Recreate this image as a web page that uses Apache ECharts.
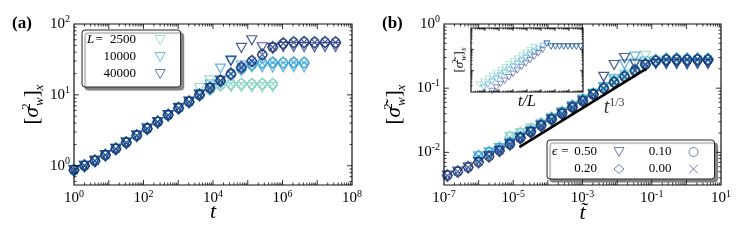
<!DOCTYPE html>
<html><head><meta charset="utf-8">
<script src="https://cdn.jsdelivr.net/npm/echarts@6/dist/echarts.min.js"></script>
<style>html,body{margin:0;padding:0;background:#fff}#c{width:747px;height:249px}</style>
</head><body><div id="c"></div>
<script>
// ---------- data: panel (a) ----------
const tA = [1,2,4,8,16,32,64,128,256,512,1024,2048,4096,8192,16384,32768,65536,131072,262144,524288,1048576,2097152,4194304,8388608,16777216,33554432];
const a2500    = [0.87,1.0,1.17,1.41,1.73,2.12,2.66,3.34,4.14,5.19,6.5,7.95,9.8,11.8,13.6,14.2,14.3,14.2,14.3,14.2];
const a2500tri = [0.87,1.0,1.17,1.41,1.73,2.12,2.66,3.34,4.14,5.19,6.6,8.2,12.5,16.0,13.5,12.8,12.8,12.7,12.8,12.8];
const a10000    = [0.87,1.0,1.17,1.41,1.73,2.12,2.66,3.34,4.14,5.19,6.5,7.95,10.0,12.5,15.6,19.3,23.0,26.5,28.3,28.6,28.5,28.6,28.5];
const a10000tri = [0.87,1.0,1.17,1.41,1.73,2.12,2.66,3.34,4.14,5.19,6.5,7.95,10.3,14.0,23.5,31.0,26.0,24.5,24.5,24.4,24.5,24.5,24.4];
const a40000    = [0.87,1.0,1.17,1.41,1.73,2.12,2.66,3.34,4.14,5.19,6.5,7.95,10.0,12.5,15.9,19.9,24.5,30.0,37.0,47.0,53.0,55.0,55.5,55.0,55.5,55.0];
const a40000tri = [0.87,1.0,1.17,1.41,1.73,2.12,2.66,3.34,4.14,5.19,6.5,7.95,10.0,12.5,15.9,30.0,46.0,59.0,47.0,46.0,47.5,47.5,47.5,47.0,47.5,47.5];
// ---------- data: panel (b) ----------
const tTilde = [1.25e-7,2.5e-7,5e-7,1e-6,2e-6,4e-6,8e-6,1.6e-5,3.2e-5,6.4e-5,1.28e-4,2.56e-4,5.12e-4,1.024e-3,2.048e-3,4.096e-3,8.192e-3,0.016384,0.032768,0.065536,0.131072,0.262144,0.524288,1.048576,2.097152,4.194304];
const b2500    = [0.0174,0.02,0.0234,0.0282,0.0346,0.0424,0.0532,0.0668,0.0828,0.1038,0.13,0.159,0.196,0.236,0.272,0.284,0.286,0.284,0.286,0.284];
const b2500tri = [0.0174,0.02,0.0234,0.0282,0.0346,0.0424,0.0532,0.0668,0.0828,0.1038,0.132,0.164,0.25,0.32,0.27,0.256,0.256,0.254,0.256,0.256];
const b10000    = [0.0087,0.01,0.0117,0.0141,0.0173,0.0212,0.0266,0.0334,0.0414,0.0519,0.065,0.0795,0.1,0.125,0.156,0.193,0.23,0.265,0.283,0.286,0.285,0.286,0.285];
const b10000tri = [0.0087,0.01,0.0117,0.0141,0.0173,0.0212,0.0266,0.0334,0.0414,0.0519,0.065,0.0795,0.103,0.14,0.235,0.31,0.26,0.245,0.245,0.244,0.245,0.245,0.244];
const b40000    = [0.00435,0.005,0.00585,0.00705,0.00865,0.0106,0.0133,0.0167,0.0207,0.026,0.0325,0.0398,0.05,0.0625,0.0795,0.0995,0.1225,0.15,0.185,0.235,0.265,0.275,0.2775,0.275,0.2775,0.275];
const b40000tri = [0.00435,0.005,0.00585,0.00705,0.00865,0.0106,0.0133,0.0167,0.0207,0.026,0.0325,0.0398,0.05,0.0625,0.0795,0.15,0.23,0.295,0.235,0.23,0.2375,0.2375,0.2375,0.235,0.2375,0.2375];
const offsetB = {2500: 6, 10000: 3, 40000: 0};
const powerX = [1.5e-5, 0.07];
const powerY = [0.0121, 0.202];
const annotPos = [0.0082, 0.0487];
// ---------- data: inset ----------
const insetX = [1,2,4,8,16,32,64,128,256,512,1024,2048,4096,8192,16384,32768,65536,131072,262144,524288,1048576,2097152,4194304,8388608,16777216,33554432,67108864];
const insetTeal = [0.00224,0.00305,0.00417,0.00569,0.00776,0.0106,0.0145,0.0197,0.0269,0.0367,0.0501,0.0684,0.0933,0.127];
const insetBlue = [0.00158,0.00219,0.00302,0.00417,0.00575,0.00794,0.011,0.0151,0.0209,0.0288,0.0398,0.055,0.0759,0.105,0.145,0.19,0.138,0.138,0.138,0.138,0.138,0.138,0.138,0.138];
const insetNavy = [0.00112,0.00162,0.00234,0.00339,0.0049,0.00708,0.0102,0.0148,0.0214,0.0309,0.0447,0.0646,0.0933,0.182,0.135,0.135,0.135,0.135,0.135,0.135,0.135,0.135];
const insetStart = {teal: 2, blue: 3, navy: 5};
// ---------- labels ----------
const legendL = ['2500','10000','40000'];
const legendEps = ['0.50','0.10','0.20','0.00'];

// ---------- styling ----------
const FF = '"Liberation Serif","DejaVu Serif",serif';
const C = {2500: '#86d3c1', 10000: '#37a3d6', 40000: '#1d3679'};
const CL = {2500: '#8ad6c4', 10000: '#3ea8da', 40000: '#4a5596'};
const CEPS = '#4c5c9c';
const TRI = 'path://M0,0L10,0L5,9Z';
const CROSS = 'path://M0,0L10,10M10,0L0,10';
const NONE = 'rgba(0,0,0,0)';

const tickRich = {
  b: {fontFamily: FF, fontSize: 15, lineHeight: 19, color: '#000'},
  s: {fontFamily: FF, fontSize: 10, lineHeight: 10, verticalAlign: 'top', color: '#000'}
};
function fmt(parity) {
  return function (v) {
    const e = Math.log10(v), r = Math.round(e);
    if (Math.abs(e - r) > 1e-6) return '';
    if (parity !== null && Math.abs(r % 2) !== parity) return '';
    return '{b|10}{s|' + r + '}';
  };
}
function logAxis(grid, min, max, parity, extra) {
  return Object.assign({
    type: 'log', gridIndex: grid, min: min, max: max, logBase: 10,
    axisLine: {show: false}, axisTick: {show: false}, splitLine: {show: false}, minorTick: {show: false},
    axisLabel: {formatter: fmt(parity), rich: tickRich, margin: 4},
    nameMoveOverlap: false
  }, extra);
}
function yName(size, sub) {
  return {
    rich: {
      br: {fontFamily: FF, fontSize: size, lineHeight: size * 1.25, color: '#000'},
      sg: {fontFamily: FF, fontStyle: 'italic', fontSize: size, lineHeight: size * 1.25, color: '#000'},
      sp: {fontFamily: FF, fontSize: sub, lineHeight: sub, verticalAlign: 'top', width: 1, align: 'left', color: '#000'},
      sb: {fontFamily: FF, fontStyle: 'italic', fontSize: sub, lineHeight: sub, verticalAlign: 'bottom', color: '#000'}
    }
  };
}
const YN_A = '{br|[}{sg|σ}{sp|2}{sb|w}{br|]}{sb|x}';
const YN_B = '{br|[}{sg|σ̃}{sp|2}{sb|w}{br|]}{sb|x}';

function scat(name, xs, ys, sym, size, color, xi, bw, z) {
  return {
    type: 'scatter', name: name, xAxisIndex: xi, yAxisIndex: xi,
    data: ys.map((y, i) => [xs[i], y]), symbol: sym, symbolSize: size,
    itemStyle: {color: NONE, borderColor: color, borderWidth: bw || 1.2},
    silent: true, z: z || 2, animation: false
  };
}
function tickSeries(xi, xr, yr, maj, mnr) {
  const xt = [], yt = [];
  for (let e = Math.floor(Math.log10(xr[0])) - 1; e <= Math.ceil(Math.log10(xr[1])); e++)
    for (let m = 1; m <= 9; m++) { const v = m * Math.pow(10, e); if (v > xr[0] * 1.0001 && v < xr[1] * 0.9999) xt.push([v, yr[0], m === 1 ? 1 : 0]); }
  for (let e = Math.floor(Math.log10(yr[0])) - 1; e <= Math.ceil(Math.log10(yr[1])); e++)
    for (let m = 1; m <= 9; m++) { const v = m * Math.pow(10, e); if (v > yr[0] * 1.0001 && v < yr[1] * 0.9999) yt.push([xr[0], v, m === 1 ? 1 : 0]); }
  const st = {stroke: '#000', lineWidth: 0.8};
  return [{
    type: 'custom', xAxisIndex: xi, yAxisIndex: xi, clip: false, silent: true, z: 6, data: xt,
    renderItem: function (p, api) {
      const v = api.value(0), len = api.value(2) ? maj : mnr;
      const a = api.coord([v, yr[0]]), b = api.coord([v, yr[1]]);
      return {type: 'group', children: [
        {type: 'line', shape: {x1: a[0], y1: a[1], x2: a[0], y2: a[1] - len}, style: st},
        {type: 'line', shape: {x1: b[0], y1: b[1], x2: b[0], y2: b[1] + len}, style: st}]};
    }
  }, {
    type: 'custom', xAxisIndex: xi, yAxisIndex: xi, clip: false, silent: true, z: 6, data: yt,
    renderItem: function (p, api) {
      const v = api.value(1), len = api.value(2) ? maj : mnr;
      const a = api.coord([xr[0], v]), b = api.coord([xr[1], v]);
      return {type: 'group', children: [
        {type: 'line', shape: {x1: a[0], y1: a[1], x2: a[0] + len, y2: a[1]}, style: st},
        {type: 'line', shape: {x1: b[0], y1: b[1], x2: b[0] - len, y2: b[1]}, style: st}]};
    }
  }];
}

const XA = [1, 1e8], YA = [0.535, 100];
const XB = [1e-7, 10], YB = [0.0031, 1];
const XI = [1, 1e8], YI = [0.001, 1];

const series = [];
const setsA = {2500: [a2500, a2500tri], 10000: [a10000, a10000tri], 40000: [a40000, a40000tri]};
const setsB = {2500: [b2500, b2500tri], 10000: [b10000, b10000tri], 40000: [b40000, b40000tri]};
[2500, 10000, 40000].forEach(L => {
  const [m, t] = setsA[L];
  series.push(scat('a' + L + 'tri', tA, t, TRI, [10, 9], C[L], 0));
  series.push(scat('a' + L + 'dia', tA, m, 'diamond', [10, 12], C[L], 0));
  series.push(scat('a' + L + 'cir', tA, m, 'circle', 9, C[L], 0));
  series.push(scat('a' + L + 'x', tA, m, CROSS, 7, C[L], 0));
});
[2500, 10000, 40000].forEach(L => {
  const [m, t] = setsB[L];
  const xs = tTilde.slice(offsetB[L]);
  series.push(scat('b' + L + 'tri', xs, t, TRI, [10, 9], C[L], 1));
  series.push(scat('b' + L + 'dia', xs, m, 'diamond', [10, 12], C[L], 1));
  series.push(scat('b' + L + 'cir', xs, m, 'circle', 9, C[L], 1));
  series.push(scat('b' + L + 'x', xs, m, CROSS, 7, C[L], 1));
});
series.push(scat('iTeal', insetX.slice(insetStart.teal), insetTeal, TRI, [6, 5.5], C[2500], 2, 0.8, 3));
series.push(scat('iBlue', insetX.slice(insetStart.blue), insetBlue, TRI, [6, 5.5], C[10000], 2, 0.8, 3));
series.push(scat('iNavy', insetX.slice(insetStart.navy), insetNavy, TRI, [6, 5.5], '#3c5096', 2, 0.8, 3));
series.push({type: 'line', xAxisIndex: 1, yAxisIndex: 1, data: powerX.map((x, i) => [x, powerY[i]]),
  symbol: 'none', lineStyle: {color: '#000', width: 2.6}, z: 4, silent: true, animation: false});
series.push({type: 'scatter', xAxisIndex: 1, yAxisIndex: 1, data: [annotPos], symbolSize: 1,
  itemStyle: {color: NONE}, silent: true, z: 4,
  label: {show: true, position: 'inside', formatter: '{t|t}{s|1/3}',
    rich: {t: {fontFamily: FF, fontStyle: 'italic', fontSize: 20, lineHeight: 22, color: '#000'},
           s: {fontFamily: FF, fontSize: 12, lineHeight: 12, verticalAlign: 'top', color: '#000'}}}});
tickSeries(0, XA, YA, 5, 2.5).forEach(s => series.push(s));
tickSeries(1, XB, YB, 5, 2.5).forEach(s => series.push(s));
tickSeries(2, XI, YI, 3, 1.5).forEach(s => series.push(s));
legendL.forEach(l => series.push({type: 'scatter', name: 'L' + l, xAxisIndex: 0, yAxisIndex: 0, data: []}));
legendEps.forEach(e => series.push({type: 'scatter', name: 'e' + e, xAxisIndex: 1, yAxisIndex: 1, data: []}));

const legBox = {backgroundColor: '#fff', borderColor: '#222', borderWidth: 1, borderRadius: 3,
  shadowColor: 'rgba(70,70,70,0.65)', shadowOffsetX: 3, shadowOffsetY: 3, shadowBlur: 1, selectedMode: false,
  itemWidth: 10, itemHeight: 9, align: 'right', itemGap: 1};
const txt = {fontFamily: FF, fontSize: 13, lineHeight: 16, color: '#000'};
const legendA = Object.assign({}, legBox, {
  left: 82, top: 30, orient: 'vertical', padding: [2, 15, 5, 5],
  data: legendL.map((l, i) => ({name: 'L' + l, icon: TRI,
    itemStyle: {color: NONE, borderColor: CL[[2500, 10000, 40000][i]], borderWidth: 1}})),
  formatter: function (name) {
    const v = name.slice(1);
    return (v === '2500' ? '{li|L}{eq|=}' : '{pad| }') + '{n|' + v + '}{sp| }';
  },
  textStyle: Object.assign({}, txt, {rich: {
    li: Object.assign({}, txt, {fontStyle: 'italic', width: 7}),
    eq: Object.assign({}, txt, {width: 10, align: 'center'}),
    pad: Object.assign({}, txt, {width: 17}),
    n: Object.assign({}, txt, {width: 32, align: 'right'}),
    sp: Object.assign({}, txt, {width: 14})}})
});
const epsIcons = [TRI, 'circle', 'diamond', CROSS];
const legendB = Object.assign({}, legBox, {
  left: 547, top: 140, width: 200, orient: 'horizontal', padding: [4, 16, 2, 4],
  data: legendEps.map((e, i) => ({name: 'e' + e, icon: epsIcons[i],
    itemStyle: {color: NONE, borderColor: CEPS, borderWidth: 1}})),
  formatter: function (name) {
    const v = name.slice(1);
    return (v === '0.50' ? '{ep|ϵ}{eq|=}' : '{pad| }') + '{n|' + v + '}{sp| }';
  },
  textStyle: Object.assign({}, txt, {rich: {
    ep: Object.assign({}, txt, {fontStyle: 'italic', width: 7}),
    eq: Object.assign({}, txt, {width: 14, align: 'center'}),
    pad: Object.assign({}, txt, {width: 21}),
    n: Object.assign({}, txt, {width: 25, align: 'right'}),
    sp: Object.assign({}, txt, {width: 12})}})
});

const gridStyle = {show: true, borderColor: '#111', borderWidth: 1.2, backgroundColor: 'transparent', containLabel: false, outerBoundsMode: 'none'};
const option = {
  animation: false,
  backgroundColor: '#fff',
  grid: [
    Object.assign({left: 74, top: 24, width: 278, height: 161}, gridStyle),
    Object.assign({left: 444, top: 24, width: 277, height: 161}, gridStyle),
    Object.assign({}, gridStyle, {left: 471, top: 28, width: 112, height: 64, backgroundColor: '#fff'})
  ],
  xAxis: [
    logAxis(0, XA[0], XA[1], 0, {name: 't', nameLocation: 'middle', nameGap: 16,
      nameTextStyle: {fontFamily: FF, fontStyle: 'italic', fontSize: 22, color: '#000'}}),
    logAxis(1, XB[0], XB[1], 1, {name: 't̃', nameLocation: 'middle', nameGap: 17,
      nameTextStyle: {fontFamily: FF, fontStyle: 'italic', fontSize: 22, color: '#000'}}),
    logAxis(2, XI[0], XI[1], null, {axisLabel: {show: false}, name: 't/L', nameLocation: 'middle', nameGap: 2,
      nameTextStyle: {fontFamily: FF, fontStyle: 'italic', fontSize: 16, color: '#000'}})
  ],
  yAxis: [
    logAxis(0, YA[0], YA[1], null, {name: YN_A, nameLocation: 'middle', nameGap: 28, nameTextStyle: yName(21, 13)}),
    logAxis(1, YB[0], YB[1], null, {name: YN_B, nameLocation: 'middle', nameGap: 36, nameTextStyle: yName(21, 13)}),
    logAxis(2, YI[0], YI[1], null, {axisLabel: {show: false}, name: YN_B, nameLocation: 'middle', nameGap: 3, nameTextStyle: yName(13, 8)})
  ],
  legend: [legendA, legendB],
  graphic: [
    {type: 'text', left: 12, top: 15, style: {text: '(a)', font: 'bold 17px ' + FF, fill: '#000'}},
    {type: 'text', left: 382, top: 15, style: {text: '(b)', font: 'bold 17px ' + FF, fill: '#000'}}
  ],
  series: series
};
const chart = echarts.init(document.getElementById('c'), null, {renderer: 'canvas'});
chart.setOption(option);
</script></body></html>
